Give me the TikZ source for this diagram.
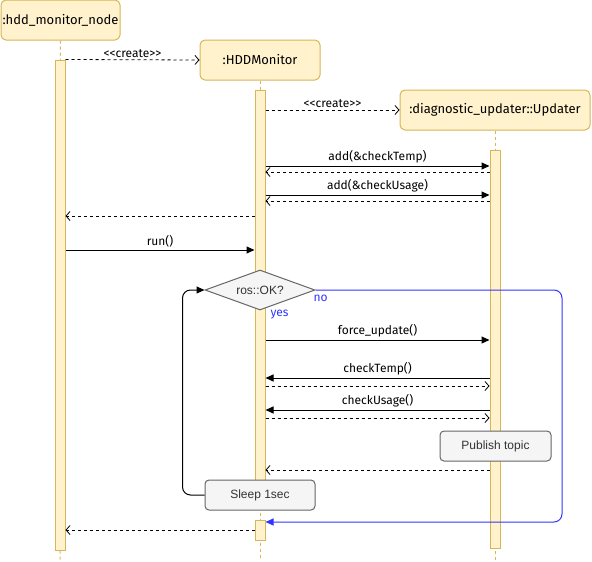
\documentclass[tikz,border=0pt]{standalone}
\usepackage{fontspec}
\setmainfont{Fira Sans}
\newfontfamily\boxfont{Liberation Sans}
\usetikzlibrary{arrows.meta, positioning, shapes.geometric}
\definecolor{lifefill}{HTML}{FFF2CC}
\definecolor{lifedraw}{HTML}{D6B656}
\definecolor{notefill}{HTML}{F5F5F5}
\definecolor{notedraw}{HTML}{666666}
\definecolor{noblue}{HTML}{3333FF}
\tikzset{
  head/.style={draw=lifedraw, fill=lifefill, rounded corners=5, minimum height=40, inner sep=0, font=\fontsize{13}{15}\selectfont},
  act/.style={draw=lifedraw, fill=lifefill, minimum width=10, inner sep=0},
  life/.style={draw=lifedraw, dash pattern=on 3pt off 3pt},
  call/.style={line width=1, -{Triangle[length=8,width=7]}},
  ret/.style={line width=0.8, dash pattern=on 3pt off 3pt, -{Straight Barb[length=4,width=9]}},
  lbl/.style={above, inner sep=2, font=\fontsize{12}{14}\selectfont},
  note/.style={draw=notedraw, fill=notefill, rounded corners=4, minimum height=30, inner sep=0, text=black!80, font=\boxfont\fontsize{12}{14}\selectfont},
  blue/.style={text=noblue, font=\fontsize{12}{14}\selectfont, inner sep=0}
}

\begin{document}
\begin{tikzpicture}[x=1pt, y=-1pt, line width=1]
  \useasboundingbox (0,0) rectangle (592,562);

  % lifelines
  \node[head, minimum width=119] (node) at (60.5,20) {:hdd\_monitor\_node};
  \node[head, minimum width=120] (mon) at (260,60) {:HDDMonitor};
  \node[head, minimum width=190] (upd) at (495,110) {:diagnostic\_updater::Updater};
  \draw[life] (node.south) -- (60,560);
  \draw[life] (mon.south) -- (260,560);
  \draw[life] (upd.south) -- (495,560);
  \node[act, minimum height=490] (a1) at (60,305) {};
  \node[act, minimum height=400] (a2) at (260,290) {};
  \node[act, minimum height=20] (a2b) at (260,530) {};
  \node[act, minimum height=398] (a3) at (495,349) {};

  % creation
  \draw[ret] (a1.north east) -- node[lbl] {<\kern0pt<create>\kern0pt>} (mon.west);
  \draw[ret] (a2.east |- 0,110) -- node[lbl] {<\kern0pt<create>\kern0pt>} (upd.west);
  \draw[call] (a2.east |- 0,166) -- node[lbl] {add(\&checkTemp)} (a3.west |- 0,166);
  \draw[ret] (a3.west |- 0,172) -- (a2.east |- 0,172);
  \draw[call] (a2.east |- 0,195) -- node[lbl] {add(\&checkUsage)} (a3.west |- 0,195);
  \draw[ret] (a3.west |- 0,201) -- (a2.east |- 0,201);
  \draw[ret] (a2.west |- 0,216) -- (a1.east |- 0,216);
  \draw[call] (a1.east |- 0,250) -- node[lbl] {run()} (a2.west |- 0,250);

  % loop
  \node[diamond, draw=notedraw, fill=notefill, minimum width=110, minimum height=40, aspect=2.75, inner sep=0,
        text=black!80, font=\boxfont\fontsize{12}{14}\selectfont] (ok) at (260,290) {ros::OK?};
  \node[blue, anchor=west] (no) at (313,298) {no};
  \node[blue, anchor=west] (yes) at (270,315) {yes};
  \draw[noblue, rounded corners=8, -{Triangle[length=8,width=7]}] (ok.east) -| (562,522) -- (a2b.east |- 0,522);

  \draw[call] (a2.east |- 0,340) -- node[lbl] {force\_update()} (a3.west |- 0,340);
  \draw[call] (a3.west |- 0,378) -- node[lbl] {checkTemp()} (a2.east |- 0,378);
  \draw[ret] (a2.east |- 0,386) -- (a3.west |- 0,386);
  \draw[call] (a3.west |- 0,410) -- node[lbl] {checkUsage()} (a2.east |- 0,410);
  \draw[ret] (a2.east |- 0,418) -- (a3.west |- 0,418);

  \node[note, minimum width=111] (pub) at (495.5,446) {Publish topic};
  \draw[ret] (a3.west |- 0,470) -- (a2.east |- 0,470);
  \node[note, minimum width=110] (sleep) at (260,495) {Sleep 1sec};
  \draw[call, rounded corners=8] (sleep.west) -| ([xshift=-22]ok.west) -- (ok.west);

  \draw[ret] (a2b.west) -- (a1.east |- a2b.west);
\end{tikzpicture}
\end{document}
